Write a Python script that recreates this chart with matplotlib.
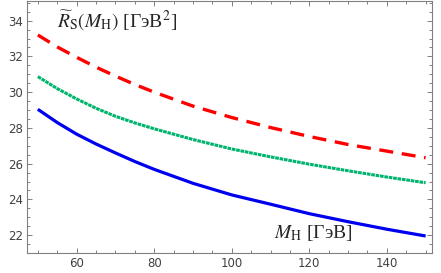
import matplotlib.pyplot as plt
from matplotlib.ticker import MultipleLocator

plt.rcParams['mathtext.fontset'] = 'stix'

# M_H values (GeV)
mh = [50, 55, 60, 65, 70, 75, 80, 90, 100, 110, 120, 130, 140, 150]

# three curves
r_blue = [29.04, 28.3, 27.65, 27.1, 26.6, 26.12, 25.68, 24.9, 24.25, 23.73, 23.2, 22.75, 22.33, 21.95]
r_green = [30.87, 30.2, 29.62, 29.1, 28.65, 28.28, 27.95, 27.35, 26.82, 26.38, 25.97, 25.6, 25.25, 24.93]
r_red = [33.2, 32.53, 31.95, 31.4, 30.9, 30.43, 30.0, 29.22, 28.58, 28.02, 27.52, 27.07, 26.7, 26.33]

fig = plt.figure(figsize=(4.41, 2.73), dpi=100)
ax = fig.add_axes([0.0612, 0.0733, 0.918, 0.923])

ax.plot(mh, r_blue, color='#0000f0', lw=2.3, solid_capstyle='butt')
ax.plot(mh, r_green, color='#00b46e', lw=2.2, ls=(0, (1.2, 0.25)))
ax.plot(mh, r_red, color='#ff0000', lw=2.4, ls=(0, (4.2, 2.6)))

ax.set_xlim(47.2, 151.6)
ax.set_ylim(21.0, 35.1)

ax.xaxis.set_major_locator(MultipleLocator(20))
ax.xaxis.set_minor_locator(MultipleLocator(5))
ax.yaxis.set_major_locator(MultipleLocator(2))
ax.yaxis.set_minor_locator(MultipleLocator(0.5))

ax.tick_params(which='both', direction='in', top=True, right=True,
               color='0.5', width=0.7, labelsize=8.5, labelcolor='0.25')
ax.tick_params(which='major', length=3.5, pad=3)
ax.tick_params(which='minor', length=2)
for s in ax.spines.values():
    s.set_color('0.5')
    s.set_linewidth(0.8)

ax.text(0.073, 0.97, r'$\widetilde{R}_{\rm S}(M_{\rm H})$ [ГэВ$^2$]',
        transform=ax.transAxes, ha='left', va='top', fontsize=14,
        family='Liberation Serif', color='0.15')
ax.text(0.61, 0.04, r'$M_{\rm H}$ [ГэВ]',
        transform=ax.transAxes, ha='left', va='bottom', fontsize=14,
        family='Liberation Serif', color='0.15')

fig.savefig('out.png', dpi=100)
